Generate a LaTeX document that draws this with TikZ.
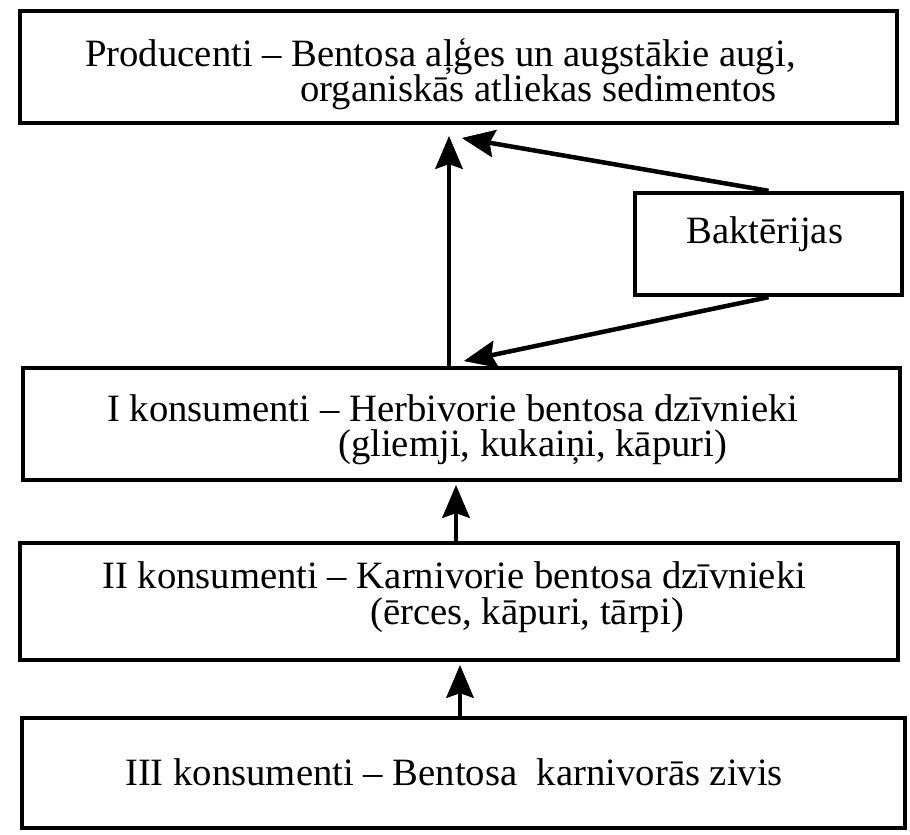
\documentclass[tikz,border=0pt]{standalone}
\usepackage{fontspec}
\setmainfont{Liberation Serif}
\usetikzlibrary{arrows.meta}
\tikzset{
  boxnode/.style={draw, line width=4.3pt, rectangle, inner sep=0pt},
  txt/.style={inner sep=0pt, anchor=base west, font=\fontsize{38.7}{35}\selectfont},
  arr/.style={line width=4.5pt, -{Stealth[length=33pt,width=28pt,inset=5pt,line width=0.5pt]}},
}
\begin{document}
\begin{tikzpicture}[x=1pt,y=-1pt]
\fill[white] (0,0) rectangle (910,835);
\useasboundingbox (0,0) rectangle (910,835);
% boxes
\node[boxnode, minimum width=877pt, minimum height=112pt] (prod) at (458.5,67) {};
\node[boxnode, minimum width=267pt, minimum height=102pt] (bakt) at (768.5,244) {};
\node[boxnode, minimum width=877pt, minimum height=112pt] (herb) at (461.5,424) {};
\node[boxnode, minimum width=878pt, minimum height=117pt] (carn) at (459,601.5) {};
\node[boxnode, minimum width=883pt, minimum height=110pt] (fish) at (463.5,773) {};
% texts
\node[txt] (prodA) at (85,66) {Producenti – Bentosa aļģes un augstākie augi,};
\node[txt] (prodB) at (300,101) {organiskās atliekas sedimentos};
\node[txt] (baktT) at (686,243) {Baktērijas};
\node[txt] (herbA) at (107,421) {I konsumenti – Herbivorie bentosa dzīvnieki};
\node[txt] (herbB) at (338,456) {(gliemji, kukaiņi, kāpuri)};
\node[txt] (carnA) at (102,588) {II konsumenti – Karnivorie bentosa dzīvnieki};
\node[txt] (carnB) at (370,624) {(ērces, kāpuri, tārpi)};
\node[txt] (fishA) at (125,785) {III konsumenti – Bentosa\ \ karnivorās zivis};
% connector helpers
\coordinate (xa) at (449,0);
\coordinate (xb) at (456,0);
\coordinate (xc) at (460,0);
\coordinate (tipUp) at (462,138);
\coordinate (tipDown) at (464,361);
% connectors
\draw[arr, shorten >=11pt] (herb.north -| xa) -- (prod.south -| xa);
\draw[arr] (bakt.north) -- (tipUp);
\draw[arr] (bakt.south) -- (tipDown);
\draw[arr, shorten >=3pt] (carn.north -| xb) -- (herb.south -| xb);
\draw[arr, shorten >=3pt] (fish.north -| xc) -- (carn.south -| xc);
\end{tikzpicture}
\end{document}
